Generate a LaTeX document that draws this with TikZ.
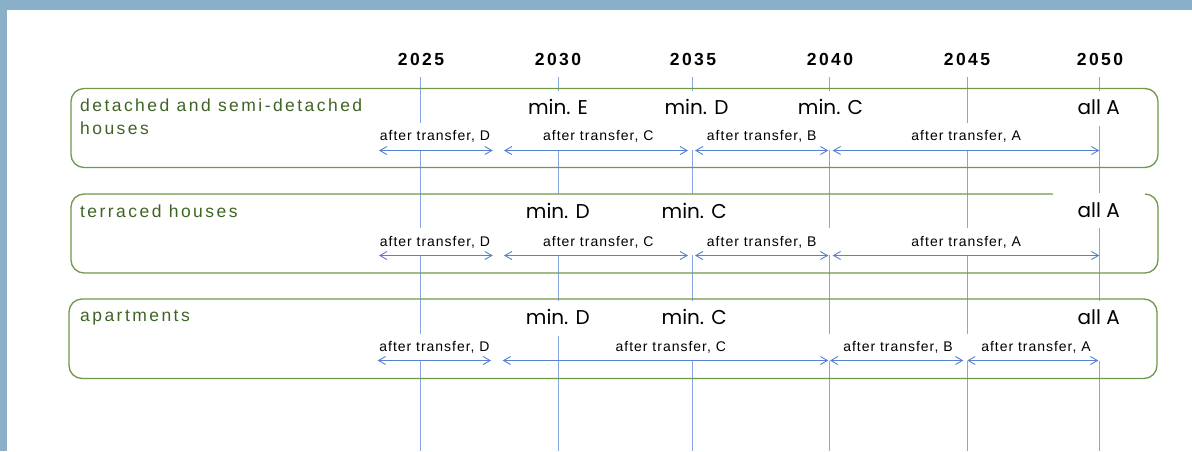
\documentclass[tikz,border=0pt]{standalone}
\usepackage{fontspec}
\setmainfont{Liberation Sans}
\newfontfamily\spacedfont[LetterSpace=14]{Liberation Sans}
\newfontfamily\labelfont[LetterSpace=7]{Liberation Sans}
\newfontfamily\minfont{Poppins}
\usetikzlibrary{arrows.meta}

\definecolor{framecol}{RGB}{138,175,200}
\definecolor{boxgreen}{RGB}{112,152,72}
\definecolor{textgreen}{RGB}{62,100,36}
\definecolor{lineblue}{RGB}{135,165,225}
\definecolor{arrowblue}{RGB}{88,128,208}

\tikzset{
  year/.style={anchor=base,inner sep=0pt,font=\spacedfont\bfseries\fontsize{17.5}{20}\selectfont},
  rowname/.style={anchor=north west,inner sep=0pt,align=left,text=textgreen,
    font=\spacedfont\fontsize{17.5}{23.5}\selectfont},
  rowbox/.style={draw=boxgreen,line width=1.3pt,rounded corners=13pt},
  level/.style={anchor=base,fill=white,inner xsep=25pt,inner ysep=6pt,
    text height=18pt,text depth=5pt,font=\minfont\fontsize{20}{24}\selectfont},
  span/.style={anchor=base,fill=white,inner xsep=15pt,inner ysep=6pt,
    text height=12pt,text depth=3pt,font=\labelfont\fontsize{14}{16}\selectfont},
  vline/.style={draw=lineblue,line width=1.1pt},
  spanline/.style={draw=arrowblue,line width=0.9pt,<->}
}

\begin{document}
\begin{tikzpicture}[x=1pt,y=-1pt,>={Straight Barb[length=7pt,width=8pt]}]
  \useasboundingbox (0,0) rectangle (1192,451);
  \fill[framecol] (0,0) rectangle (1192,10);
  \fill[framecol] (0,0) rectangle (7,451);

  \draw
    (421,65.5) node[year] (y2025){2025}
    (558,65.5) node[year] (y2030){2030}
    (693,65.5) node[year] (y2035){2035}
    (830,65.5) node[year] (y2040){2040}
    (967,65.5) node[year] (y2045){2045}
    (1100,65.5) node[year] (y2050){2050};

  \coordinate (t2025) at (420.5,77);  \coordinate (b2025) at (420.5,451);
  \coordinate (t2030) at (558.5,77);  \coordinate (b2030) at (558.5,451);
  \coordinate (t2035) at (692.5,77);  \coordinate (b2035) at (692.5,451);
  \coordinate (t2040) at (829.5,77);  \coordinate (b2040) at (829.5,451);
  \coordinate (t2045) at (967.5,77);  \coordinate (b2045) at (967.5,451);
  \coordinate (t2050) at (1099.5,77); \coordinate (b2050) at (1099.5,451);
  \begin{scope}[vline]
    \draw (t2025) to (b2025);
    \draw (t2030) to (b2030);
    \draw (t2035) to (b2035);
    \draw (t2040) to (b2040);
    \draw (t2045) to (b2045);
    \draw (t2050) to (b2050);
  \end{scope}

  \draw
    (558,114.5) node[level] (m1e){min. E}
    (696.5,114.5) node[level] (m1d){min. D}
    (830.5,114.5) node[level] (m1c){min. C}
    (1098.7,114.5) node[level] (m1a){all A}
    (557.8,218) node[level] (m2d){min. D}
    (694.2,218) node[level] (m2c){min. C}
    (557.8,324.5) node[level] (m3d){min. D}
    (694.2,324.5) node[level] (m3c){min. C}
    (1098.8,324.5) node[level] (m3a){all A};

  \node[rowbox,minimum width=1087pt,minimum height=79pt] (box1) at (614.5,128) {};
  \node[rowbox,minimum width=1087pt,minimum height=79pt] (box2) at (614.5,233.5) {};
  \node[rowbox,minimum width=1088pt,minimum height=79.5pt] (box3) at (613,338.75) {};

  \node[level] (m2a) at (1098.8,217.3) {all A};

  \node[rowname] (house1) at (80,98.5) {detached and semi-detached\\houses};
  \node[rowname] (house2) at (80,204.5) {terraced houses};
  \node[rowname] (house3) at (80,310) {apartments};

  \draw
    (435,140.5) node[span] (s1d){after transfer, D}
    (598.3,140.5) node[span] (s1c){after transfer, C}
    (761.7,140.5) node[span] (s1b){after transfer, B}
    (966.2,140.5) node[span] (s1a){after transfer, A}
    (435,246) node[span] (s2d){after transfer, D}
    (598.3,246) node[span] (s2c){after transfer, C}
    (761.7,246) node[span] (s2b){after transfer, B}
    (966.2,246) node[span] (s2a){after transfer, A}
    (434.5,351.5) node[span] (s3d){after transfer, D}
    (670.8,351.5) node[span] (s3c){after transfer, C}
    (898,351.5) node[span] (s3b){after transfer, B}
    (1036,351.5) node[span] (s3a){after transfer, A};

  \coordinate (p1d) at (379,150.5);   \coordinate (q1d) at (492.7,150.5);
  \coordinate (p1c) at (504,150.5);   \coordinate (q1c) at (688,150.5);
  \coordinate (p1b) at (695,150.5);   \coordinate (q1b) at (828.3,150.5);
  \coordinate (p1a) at (832.7,150.5); \coordinate (q1a) at (1099.3,150.5);
  \coordinate (p2d) at (379,255.5);   \coordinate (q2d) at (492.7,255.5);
  \coordinate (p2c) at (504,255.5);   \coordinate (q2c) at (688,255.5);
  \coordinate (p2b) at (695,255.5);   \coordinate (q2b) at (828.3,255.5);
  \coordinate (p2a) at (832.7,255.5); \coordinate (q2a) at (1099.3,255.5);
  \coordinate (p3d) at (377.7,360.5); \coordinate (q3d) at (491,360.5);
  \coordinate (p3c) at (502.7,360.5); \coordinate (q3c) at (828.3,360.5);
  \coordinate (p3b) at (830,360.5);   \coordinate (q3b) at (963.3,360.5);
  \coordinate (p3a) at (967.3,360.5); \coordinate (q3a) at (1098.3,360.5);
  \begin{scope}[spanline]
    \draw (p1d) to (q1d);
    \draw (p1c) to (q1c);
    \draw (p1b) to (q1b);
    \draw (p1a) to (q1a);
    \draw (p2d) to (q2d);
    \draw (p2c) to (q2c);
    \draw (p2b) to (q2b);
    \draw (p2a) to (q2a);
    \draw (p3d) to (q3d);
    \draw (p3c) to (q3c);
    \draw (p3b) to (q3b);
    \draw (p3a) to (q3a);
  \end{scope}
\end{tikzpicture}
\end{document}
